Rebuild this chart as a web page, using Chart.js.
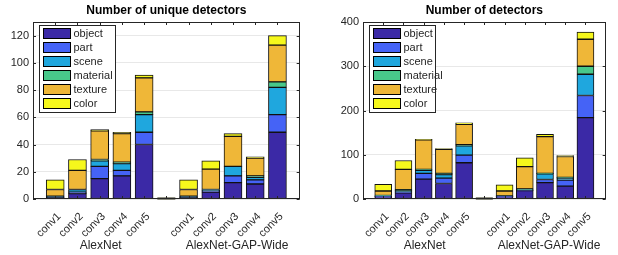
<!DOCTYPE html>
<html lang="en">
<head>
  <meta charset="utf-8">
  <title>Detectors per layer</title>
  <script src="https://cdn.jsdelivr.net/npm/chart.js@4.4.0/dist/chart.umd.min.js"></script>
  <style>
    body { margin: 0; background: #fff; }
    #wrap { position: relative; width: 618px; height: 255px; }
    #leftChart { position: absolute; left: 0; top: 0; }
    #rightChart { position: absolute; left: 312px; top: 0; }
  </style>
</head>
<body>
<div id="wrap">
  <canvas id="leftChart" width="312" height="255"></canvas>
  <canvas id="rightChart" width="306" height="255"></canvas>
</div>

<script>
// data
const layers = ['conv1', 'conv2', 'conv3', 'conv4', 'conv5'];
const groups = ['AlexNet', 'AlexNet-GAP-Wide'];
const concepts = ['object', 'part', 'scene', 'material', 'texture', 'color'];
const conceptColors = ['#3b29a6', '#4563f6', '#1fa7de', '#48c88a', '#efb738', '#f6f81c'];

// Number of unique detectors: AlexNet conv1..5, then AlexNet-GAP-Wide conv1..5
const uniqueObject   = [1, 4, 15, 17, 40,   1, 5, 12, 11, 49];
const uniquePart     = [0, 1, 9, 4, 9,      0, 1, 5, 3, 13];
const uniqueScene    = [1, 2, 4, 5, 13,     1, 1, 7, 2, 20];
const uniqueMaterial = [0, 0, 1, 1, 2,      0, 0, 0, 1, 4];
const uniqueTexture  = [5, 14, 21, 21, 25,  5, 15, 22, 13, 27];
const uniqueColor    = [7, 8, 1, 1, 2,      7, 6, 2, 1, 7];

// Number of detectors
const detObject   = [5, 14, 45, 35, 82,    5, 19, 37, 29, 184];
const detPart     = [1, 2, 13, 12, 17,     1, 1, 7, 14, 50];
const detScene    = [1, 3, 7, 8, 21,       1, 1, 13, 4, 48];
const detMaterial = [1, 2, 2, 3, 3,        0, 2, 1, 2, 18];
const detTexture  = [10, 46, 67, 54, 46,   11, 50, 83, 47, 61];
const detColor    = [15, 20, 1, 2, 3,      14, 20, 5, 2, 16];

const uniqueTicks = [0, 20, 40, 60, 80, 100, 120];
const detTicks = [0, 100, 200, 300, 400];

// slot layout: empty, conv1..5, gap, conv1..5, empty
const slotLabels = [''].concat(layers, [''], layers, ['']);
function toSlots(vals) {
  return [null].concat(vals.slice(0, 5), [null], vals.slice(5), [null]);
}

const ink = '#262626';
const font = '"Liberation Sans", Arial, Helvetica, sans-serif';

// draws the matlab style box, inside ticks, title, group labels and legend
const matlabAxes = {
  id: 'matlabAxes',
  afterDraw(chart, args, opts) {
    const ctx = chart.ctx;
    const a = chart.chartArea;
    const xs = chart.scales.x, ys = chart.scales.y;
    ctx.save();

    // gap marker at the middle slot
    const gx = xs.getPixelForValue(6), y0 = ys.getPixelForValue(0);
    ctx.fillStyle = '#2b2b10';
    ctx.fillRect(gx - opts.barW / 2, y0 - 1.5, opts.barW, 2);

    // box
    ctx.strokeStyle = ink;
    ctx.lineWidth = 1;
    ctx.strokeRect(Math.round(a.left) + 0.5, Math.round(a.top) + 0.5,
      Math.round(a.right - a.left) - 1, Math.round(a.bottom - a.top) - 1);

    // inside ticks
    ctx.beginPath();
    ys.ticks.forEach(t => {
      const py = Math.round(ys.getPixelForValue(t.value)) + 0.5;
      ctx.moveTo(a.left, py); ctx.lineTo(a.left + 3, py);
      ctx.moveTo(a.right, py); ctx.lineTo(a.right - 3, py);
    });
    for (let i = 1; i < slotLabels.length - 1; i++) {
      const px = Math.round(xs.getPixelForValue(i)) + 0.5;
      ctx.moveTo(px, a.bottom); ctx.lineTo(px, a.bottom - 3);
      ctx.moveTo(px, a.top); ctx.lineTo(px, a.top + 3);
    }
    ctx.stroke();

    // title over the axes
    ctx.fillStyle = '#000';
    ctx.font = 'bold 12px ' + font;
    ctx.textAlign = 'center';
    ctx.textBaseline = 'middle';
    ctx.fillText(opts.title, (a.left + a.right) / 2, 11);

    // group labels
    ctx.fillStyle = ink;
    ctx.font = '12px ' + font;
    ctx.fillText(groups[0], xs.getPixelForValue(3) + 1, 246);
    ctx.fillText(groups[1], xs.getPixelForValue(9) + 4, 246);

    // legend inside top left
    const bx = Math.round(a.left) + 6.5, by = Math.round(a.top) + 3.5;
    ctx.fillStyle = '#fff';
    ctx.fillRect(bx, by, opts.legendW, 87);
    ctx.strokeStyle = ink;
    ctx.strokeRect(bx, by, opts.legendW, 87);
    ctx.font = '11px ' + font;
    ctx.textAlign = 'left';
    chart.data.datasets.forEach((ds, i) => {
      const sy = by + 3 + i * 14;
      ctx.fillStyle = ds.backgroundColor;
      ctx.fillRect(bx + 4, sy, 27, 10);
      ctx.strokeStyle = '#000';
      ctx.strokeRect(bx + 4, sy, 27, 10);
      ctx.fillStyle = ink;
      ctx.fillText(ds.label, bx + 34, sy + 5.5);
    });
    ctx.restore();
  }
};

function makeChart(id, series, tickVals, maxY, yWidth, title, legendW, barW) {
  return new Chart(document.getElementById(id), {
    type: 'bar',
    data: {
      labels: slotLabels,
      datasets: series.map((vals, i) => ({
        label: concepts[i],
        data: toSlots(vals),
        backgroundColor: conceptColors[i],
        borderColor: '#111',
        borderWidth: 1,
        borderSkipped: false,
        barThickness: barW
      }))
    },
    options: {
      responsive: false,
      animation: false,
      layout: { padding: { top: 22, right: 1, left: 0, bottom: 0 } },
      plugins: {
        legend: { display: false },
        tooltip: { enabled: false },
        matlabAxes: { title: title, legendW: legendW, barW: barW }
      },
      scales: {
        x: {
          stacked: true,
          offset: false,
          grid: { display: false },
          border: { display: false },
          ticks: {
            autoSkip: false, minRotation: 45, maxRotation: 45,
            padding: 3, labelOffset: 4, color: ink, font: { family: font, size: 11 }
          },
          afterFit(scale) { scale.height = 56; }
        },
        y: {
          stacked: true,
          min: 0, max: maxY,
          grid: { color: '#e8e8e8', drawTicks: false },
          border: { display: false },
          ticks: { padding: 4, color: ink, font: { family: font, size: 11 } },
          afterBuildTicks(scale) { scale.ticks = tickVals.map(v => ({ value: v })); },
          afterFit(scale) { scale.width = yWidth; }
        }
      }
    },
    plugins: [matlabAxes]
  });
}

makeChart('leftChart',
  [uniqueObject, uniquePart, uniqueScene, uniqueMaterial, uniqueTexture, uniqueColor],
  uniqueTicks, 130, 33, 'Number of unique detectors', 76, 18);
makeChart('rightChart',
  [detObject, detPart, detScene, detMaterial, detTexture, detColor],
  detTicks, 400, 51, 'Number of detectors', 66, 17);
</script>
</body>
</html>
